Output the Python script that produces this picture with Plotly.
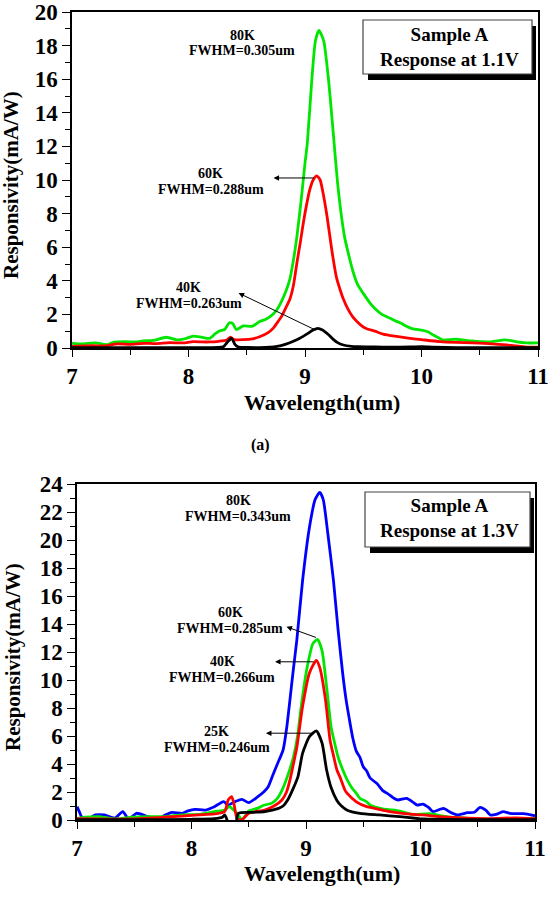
import plotly.graph_objects as go

# ---------------- data: panel (a), 1.1 V ----------------
a80_x = [7.00, 7.10, 7.20, 7.30, 7.36, 7.45, 7.55, 7.61, 7.70, 7.81, 7.90, 7.97, 8.04, 8.11, 8.18, 8.23, 8.27,
         8.31, 8.35, 8.38, 8.41, 8.47, 8.55, 8.61, 8.66, 8.70, 8.75, 8.79, 8.84, 8.87, 8.90, 8.93, 8.97, 9.00,
         9.02, 9.06, 9.09, 9.12, 9.16, 9.20, 9.24, 9.28, 9.31, 9.34, 9.38, 9.41, 9.45, 9.50, 9.56, 9.60, 9.66,
         9.73, 9.78, 9.82, 9.87, 9.92, 10.01, 10.06, 10.10, 10.15, 10.18, 10.25, 10.30, 10.38, 10.44, 10.52,
         10.59, 10.65, 10.71, 10.76, 10.82, 10.90, 11.00]
a80_y = [0.28, 0.25, 0.30, 0.20, 0.35, 0.38, 0.36, 0.42, 0.45, 0.64, 0.48, 0.55, 0.71, 0.65, 0.57, 0.85, 1.03,
         1.10, 1.50, 1.45, 1.10, 1.31, 1.30, 1.57, 1.70, 1.87, 2.20, 2.66, 3.45, 4.10, 5.20, 6.60, 9.00, 11.0,
         12.2, 16.1, 18.3, 18.9, 18.3, 16.1, 13.0, 9.8, 8.0, 6.6, 5.4, 4.6, 3.8, 3.25, 2.66, 2.35, 2.0,
         1.77, 1.60, 1.49, 1.30, 1.15, 1.05, 0.95, 0.77, 0.60, 0.48, 0.50, 0.52, 0.45, 0.42, 0.38,
         0.36, 0.42, 0.48, 0.45, 0.36, 0.30, 0.30]

a60_x = [7.00, 7.10, 7.18, 7.28, 7.39, 7.50, 7.61, 7.72, 7.84, 7.95, 8.04, 8.12, 8.18, 8.26, 8.33, 8.36, 8.39,
         8.47, 8.55, 8.61, 8.68, 8.73, 8.76, 8.80, 8.84, 8.87, 8.90, 8.93, 8.96, 8.98, 9.01, 9.04, 9.07, 9.10,
         9.13, 9.15, 9.19, 9.23, 9.27, 9.30, 9.33, 9.37, 9.41, 9.45, 9.50, 9.53, 9.60, 9.67, 9.77, 9.87, 10.00,
         10.16, 10.30, 10.44, 10.60, 10.73, 10.85, 10.92, 11.00]
a60_y = [0.10, 0.12, 0.14, 0.12, 0.24, 0.22, 0.28, 0.26, 0.32, 0.30, 0.38, 0.36, 0.36, 0.40, 0.48, 0.65, 0.50,
         0.50, 0.55, 0.67, 0.90, 1.20, 1.49, 1.90, 2.46, 2.90, 3.70, 5.05, 6.30, 7.20, 8.40, 9.40, 10.0, 10.25,
         10.0, 9.40, 7.80, 5.83, 4.20, 3.50, 2.90, 2.30, 1.85, 1.55, 1.25, 1.15, 1.00, 0.83, 0.70, 0.60, 0.50,
         0.38, 0.33, 0.30, 0.25, 0.18, 0.10, 0.05, 0.05]

a40_x = [7.00, 7.50, 8.00, 8.25, 8.30, 8.34, 8.37, 8.40, 8.43, 8.50, 8.61, 8.70, 8.76, 8.83, 8.90, 8.96, 9.02,
         9.07, 9.11, 9.15, 9.20, 9.24, 9.28, 9.33, 9.40, 9.45, 9.60, 9.73, 9.90, 10.01, 10.10, 10.30, 11.00]
a40_y = [0.02, 0.02, 0.02, 0.03, 0.08, 0.40, 0.58, 0.20, 0.05, 0.03, 0.02, 0.05, 0.10, 0.22, 0.40, 0.60, 0.85,
         1.07, 1.17, 1.07, 0.80, 0.53, 0.32, 0.18, 0.10, 0.08, 0.06, 0.05, 0.06, 0.08, 0.05, 0.02, 0.02]

# ---------------- data: panel (b), 1.3 V ----------------
b80_x = [7.00, 7.02, 7.04, 7.09, 7.16, 7.24, 7.33, 7.40, 7.45, 7.52, 7.62, 7.71, 7.77, 7.83, 7.92, 7.97, 8.03,
         8.12, 8.20, 8.28, 8.32, 8.38, 8.44, 8.50, 8.58, 8.63, 8.67, 8.71, 8.75, 8.80, 8.83, 8.86, 8.89, 8.92,
         8.97, 9.03, 9.08, 9.12, 9.15, 9.19, 9.24, 9.28, 9.32, 9.35, 9.38, 9.41, 9.44, 9.47, 9.50, 9.53, 9.56,
         9.62, 9.67, 9.71, 9.76, 9.80, 9.88, 9.93, 9.97, 10.02, 10.07, 10.11, 10.20, 10.26, 10.32, 10.41,
         10.47, 10.52, 10.57, 10.61, 10.66, 10.72, 10.78, 10.83, 10.90, 11.00]
b80_y = [0.95, 0.60, 0.24, 0.02, 0.36, 0.36, 0.14, 0.60, 0.07, 0.48, 0.24, 0.07, 0.35, 0.55, 0.48, 0.65, 0.76,
         0.71, 0.95, 1.31, 1.07, 1.31, 1.48, 1.24, 1.67, 2.00, 2.38, 3.20, 4.00, 5.00, 6.50, 8.60, 10.8, 12.86,
         17.1, 20.9, 22.9, 23.4, 22.9, 20.5, 17.1, 13.6, 10.5, 8.6, 7.14, 5.8, 4.9, 4.5, 3.8, 3.5, 3.0,
         2.6, 2.1, 1.9, 1.6, 1.43, 1.55, 1.30, 1.07, 1.14, 0.90, 0.60, 0.83, 0.55, 0.36, 0.52,
         0.55, 0.90, 0.70, 0.36, 0.40, 0.60, 0.48, 0.45, 0.45, 0.30]

b60_x = [7.00, 7.07, 7.19, 7.33, 7.48, 7.62, 7.77, 7.92, 8.06, 8.20, 8.29, 8.33, 8.37, 8.40, 8.44, 8.47, 8.50,
         8.58, 8.63, 8.70, 8.75, 8.80, 8.85, 8.89, 8.93, 8.95, 8.98, 9.01, 9.06, 9.10, 9.14, 9.18, 9.22, 9.25,
         9.28, 9.32, 9.36, 9.40, 9.44, 9.47, 9.53, 9.56, 9.67, 9.75, 9.82, 9.93, 10.08, 10.18, 10.26, 10.46,
         10.67, 10.83, 11.00]
b60_y = [0.10, 0.20, 0.24, 0.07, 0.20, 0.24, 0.24, 0.36, 0.40, 0.60, 0.71, 0.95, 0.70, 0.45, 0.02, 0.30, 0.65,
         0.85, 1.05, 1.20, 1.55, 2.30, 3.40, 4.50, 6.2, 7.6, 9.4, 10.9, 12.6, 12.9, 12.1, 9.5, 6.6, 5.5,
         4.5, 3.6, 2.86, 2.30, 1.90, 1.55, 1.30, 1.07, 0.79, 0.72, 0.64, 0.40, 0.45, 0.30, 0.20, 0.10,
         0.02, 0.10, 0.10]

b40_x = [7.00, 7.19, 7.48, 7.77, 8.06, 8.20, 8.29, 8.32, 8.35, 8.37, 8.40, 8.44, 8.50, 8.64, 8.72, 8.79, 8.83,
         8.86, 8.89, 8.92, 8.97, 9.03, 9.09, 9.12, 9.17, 9.21, 9.24, 9.27, 9.30, 9.34, 9.36, 9.44, 9.53, 9.56,
         9.73, 9.88, 10.02, 10.17, 10.32, 10.61, 10.83, 11.00]
b40_y = [0.10, 0.07, 0.07, 0.20, 0.36, 0.43, 0.60, 1.43, 1.67, 1.19, 0.07, 0.02, 0.48, 0.71, 1.00, 1.43, 2.00,
         2.86, 4.00, 5.2, 8.1, 10.5, 11.4, 10.9, 8.6, 5.7, 4.6, 3.57, 3.0, 2.14, 1.90, 1.30, 0.95, 0.90,
         0.60, 0.43, 0.36, 0.24, 0.17, 0.10, 0.15, 0.10]

b25_x = [7.00, 7.50, 8.00, 8.20, 8.27, 8.29, 8.31, 8.33, 8.38, 8.41, 8.53, 8.64, 8.76, 8.80, 8.84, 8.88, 8.93,
         8.97, 9.03, 9.09, 9.14, 9.18, 9.22, 9.27, 9.31, 9.36, 9.47, 9.64, 9.82, 10.02, 10.50, 11.00]
b25_y = [0.02, 0.02, 0.05, 0.10, 0.20, 0.36, 0.02, -0.5, -0.5, 0.48, 0.55, 0.60, 0.83, 1.00, 1.43, 2.10, 3.10,
         4.76, 5.95, 6.36, 5.5, 3.57, 2.30, 1.40, 1.00, 0.70, 0.48, 0.36, 0.24, 0.07, 0.03, 0.03]

x_ticks = [7, 8, 9, 10, 11]

W, H = 552, 905
FONT = "Liberation Serif"
GREEN, RED, BLACK, BLUE = "#00e600", "#ff0000", "#000000", "#0000ff"


def px(v):
    return v / W


def py(v):
    return 1 - v / H


fig = go.Figure()
lw = 2.8


def add(x, y, color, xa, ya):
    fig.add_trace(go.Scatter(x=x, y=y, mode="lines", xaxis=xa, yaxis=ya,
                             line=dict(color=color, width=lw, shape="spline", smoothing=0.6),
                             showlegend=False, hoverinfo="skip"))


add(a80_x, a80_y, GREEN, "x", "y")
add(a60_x, a60_y, RED, "x", "y")
add(a40_x, a40_y, BLACK, "x", "y")

add(b80_x, b80_y, BLUE, "x2", "y2")
add(b60_x, b60_y, GREEN, "x2", "y2")
add(b40_x, b40_y, RED, "x2", "y2")
add(b25_x, b25_y, BLACK, "x2", "y2")

tickfont = dict(family=FONT, size=23, color="black", weight="bold")


def xaxis(domain, anchor):
    return dict(domain=domain, anchor=anchor, range=[7, 11], tickvals=x_ticks,
                ticks="outside", ticklen=7, tickwidth=1.3, tickcolor="black",
                minor=dict(dtick=0.5, ticks="outside", ticklen=5, tickwidth=1.3, tickcolor="black", showgrid=False),
                showline=True, linecolor="black", linewidth=1.5, mirror=True,
                showgrid=False, zeroline=False, tickfont=tickfont, automargin=False)


def yaxis(domain, anchor, top):
    return dict(domain=domain, anchor=anchor, range=[0, top], dtick=2, tick0=0,
                ticks="outside", ticklen=8, tickwidth=1.3, tickcolor="black",
                minor=dict(dtick=1, ticks="outside", ticklen=5, tickwidth=1.3, tickcolor="black", showgrid=False),
                showline=True, linecolor="black", linewidth=1.5, mirror=True,
                showgrid=False, zeroline=False, tickfont=tickfont, automargin=False)


fig.update_layout(
    width=W, height=H, margin=dict(l=0, r=0, t=0, b=0, pad=0, autoexpand=False),
    paper_bgcolor="white", plot_bgcolor="white",
    font=dict(family=FONT, color="black", weight="bold"),
    xaxis=xaxis([px(72), px(538)], "y"),
    yaxis=yaxis([py(348), py(12)], "x", 20),
    xaxis2=xaxis([px(77), px(535)], "y2"),
    yaxis2=yaxis([py(820), py(484)], "x2", 24),
)

# axis titles
xt_font = dict(family=FONT, size=22, color="black", weight="bold")
yt_font = dict(family=FONT, size=21, color="black", weight="bold")
for (cx, cy) in [(322, 402), (322, 873)]:
    fig.add_annotation(x=px(cx), y=py(cy), xref="paper", yref="paper", text="Wavelength(um)", showarrow=False,
                       xanchor="center", yanchor="middle", font=xt_font)
for (cx, cy) in [(11, 185), (13, 657)]:
    fig.add_annotation(x=px(cx), y=py(cy), xref="paper", yref="paper", text="Responsivity(mA/W)",
                       showarrow=False, textangle=-90, xanchor="center", yanchor="middle", font=yt_font)

# legend-like boxes with shadow
for (x0, y0, x1, y1) in [(363, 20, 532, 74), (365, 492, 530, 547)]:
    fig.add_shape(type="rect", xref="paper", yref="paper", x0=px(x0 + 5), x1=px(x1 + 4), y0=py(y1 + 6),
                  y1=py(y0 + 6), fillcolor="black", line=dict(width=0), layer="above")
    fig.add_shape(type="rect", xref="paper", yref="paper", x0=px(x0), x1=px(x1), y0=py(y1), y1=py(y0),
                  fillcolor="white", line=dict(color="#444", width=1.2), layer="above")

lab_font = dict(family=FONT, size=19, color="black", weight="bold")
for (cx, cy, t) in [(449, 47, "Sample A<br>Response at 1.1V"), (449, 518, "Sample A<br>Response at 1.3V")]:
    fig.add_annotation(x=px(cx), y=py(cy), xref="paper", yref="paper", text=t, showarrow=False,
                       xanchor="center", yanchor="middle", align="center", font=lab_font)

fig.add_annotation(x=px(260), y=py(445), xref="paper", yref="paper", text="(a)", showarrow=False,
                   xanchor="center", yanchor="middle", font=dict(family=FONT, size=16, color="black", weight="bold"))

ann_font = dict(family=FONT, size=14, color="black", weight="bold")
# peak labels: (xref, yref, x, y_line1, y_line2, line1, line2)
labels = [
    ("x", "y", 8.46, 18.6, 17.7, "80K", "FWHM=0.305um"),
    ("x", "y", 8.19, 10.4, 9.45, "60K", "FWHM=0.288um"),
    ("x", "y", 8.00, 3.6, 2.65, "40K", "FWHM=0.263um"),
    ("x2", "y2", 8.41, 22.85, 21.65, "80K", "FWHM=0.343um"),
    ("x2", "y2", 8.34, 14.8, 13.65, "60K", "FWHM=0.285um"),
    ("x2", "y2", 8.27, 11.35, 10.2, "40K", "FWHM=0.266um"),
    ("x2", "y2", 8.22, 6.3, 5.2, "25K", "FWHM=0.246um"),
]
for xr, yr, x, y1, y2, t1, t2 in labels:
    fig.add_annotation(x=x, y=y1, xref=xr, yref=yr, text=t1, showarrow=False, xanchor="center",
                       yanchor="middle", font=ann_font)
    fig.add_annotation(x=x, y=y2, xref=xr, yref=yr, text=t2, showarrow=False, xanchor="center",
                       yanchor="middle", font=ann_font)

# arrows: head (x, y) <- tail (ax, ay)
arrows = [
    ("x", "y", 8.73, 10.12, 9.09, 10.12),
    ("x", "y", 8.43, 3.27, 9.09, 1.07),
    ("x2", "y2", 8.83, 13.8, 9.10, 13.0),
    ("x2", "y2", 8.73, 11.3, 9.08, 11.3),
    ("x2", "y2", 8.65, 6.2, 9.06, 6.2),
]
for xr, yr, x, y, ax, ay in arrows:
    fig.add_annotation(x=x, y=y, xref=xr, yref=yr, ax=ax, ay=ay, axref=xr, ayref=yr, text="",
                       showarrow=True, arrowhead=2, arrowsize=1.1, arrowwidth=1, arrowcolor="black",
                       standoff=0, startstandoff=0)

fig.write_html("out.html")
